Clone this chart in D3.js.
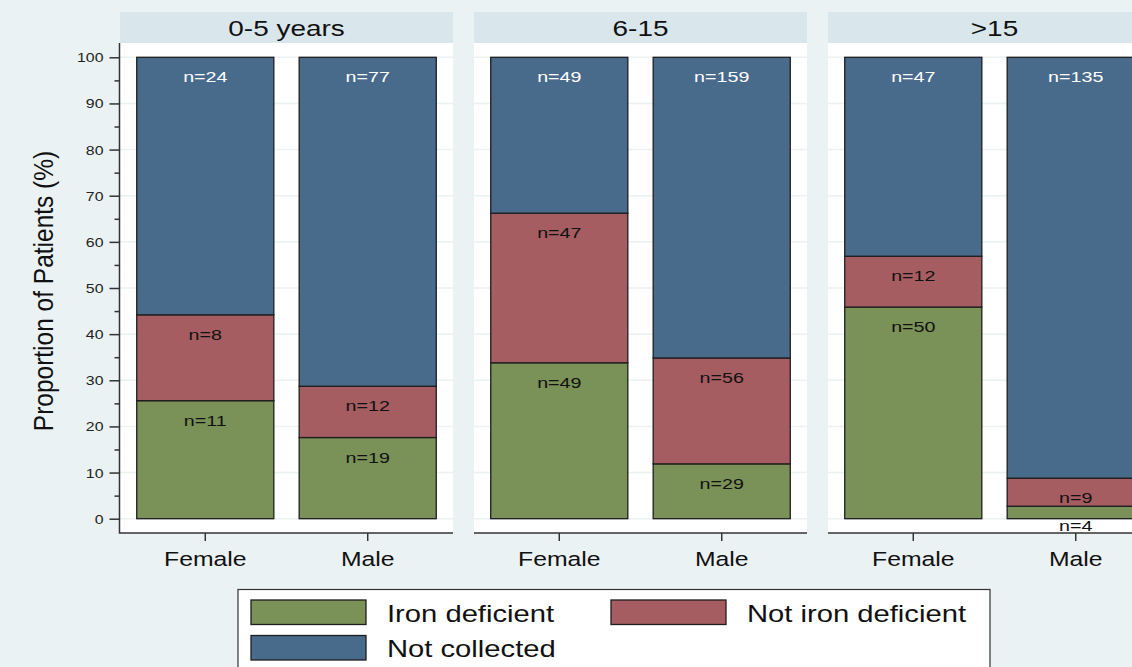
<!DOCTYPE html>
<html>
<head>
<meta charset="utf-8">
<script src="https://cdn.jsdelivr.net/npm/d3@7"></script>
<style>
  body { margin: 0; background: #eaf2f3; }
  svg { display: block; font-family: "Liberation Sans", Arial, sans-serif; }
</style>
</head>
<body>
<div id="chart"></div>
<script>
// data (counts shown as n= labels)
const ageGroups = ['0-5 years', '6-15', '>15'];
const sexes = ['Female', 'Male'];
const ironDeficient    = [11, 19, 49, 29, 50, 4];
const notIronDeficient = [8, 12, 47, 56, 12, 9];
const notCollected     = [24, 77, 49, 159, 47, 135];
const seriesNames = ['Iron deficient', 'Not iron deficient', 'Not collected'];
const yTicks = [0, 10, 20, 30, 40, 50, 60, 70, 80, 90, 100];

const width = 1132, height = 667;
const sx = 1.27; // the picture is stretched sideways, text too
const colors = { 'Iron deficient': '#7a9157', 'Not iron deficient': '#a55d61', 'Not collected': '#486a8b' };
const keys = ['ironDeficient', 'notIronDeficient', 'notCollected'];

let rows = [];
ageGroups.forEach((g, gi) => {
  sexes.forEach((s, si) => {
    let i = gi * 2 + si;
    rows.push({ group: g, sex: s, ironDeficient: ironDeficient[i], notIronDeficient: notIronDeficient[i], notCollected: notCollected[i] });
  });
});

const stack = d3.stack().keys(keys).offset(d3.stackOffsetExpand);
const stacked = stack(rows);

const svg = d3.select('#chart').append('svg')
  .attr('width', width).attr('height', height);

svg.append('rect').attr('width', width).attr('height', height).attr('fill', '#eaf2f3');

/* scales */
const panelX = d3.scaleBand().domain(ageGroups).range([120, 1161]).paddingInner(21 / 354);
const barX = d3.scaleBand().domain(sexes).range([0, panelX.bandwidth()]).paddingInner(0.156).paddingOuter(0.103);
const y = d3.scaleLinear().domain([0, 100]).range([518.7, 57.3]);

const plotTop = 43, plotBottom = 533, headTop = 12;

function stretched(sel, x, yy) {
  return sel.attr('transform', `translate(${x},${yy}) scale(${sx},1)`);
}

const panels = svg.selectAll('.panel')
  .data(ageGroups).enter()
  .append('g')
  .attr('class', 'panel')
  .attr('transform', d => `translate(${panelX(d)},0)`);

// header strip
panels.append('rect')
  .attr('y', headTop).attr('width', panelX.bandwidth()).attr('height', plotTop - headTop)
  .attr('fill', '#d9e6ec');
panels.append('text')
  .each(function (d) { stretched(d3.select(this), panelX.bandwidth() / 2, 35.7); })
  .attr('text-anchor', 'middle')
  .attr('font-size', 22)
  .attr('fill', '#111')
  .text(d => d);

// plot area
panels.append('rect')
  .attr('y', plotTop).attr('width', panelX.bandwidth()).attr('height', plotBottom - plotTop)
  .attr('fill', '#fff');
panels.selectAll('.grid')
  .data(yTicks).enter()
  .append('line')
  .attr('x1', 0).attr('x2', panelX.bandwidth())
  .attr('y1', d => y(d)).attr('y2', d => y(d))
  .attr('stroke', '#eaf2f3').attr('stroke-width', 1.5);

/* bars */
stacked.forEach((layer, li) => {
  let name = seriesNames[li];
  layer.forEach((d, i) => {
    let row = rows[i];
    let x0 = panelX(row.group) + barX(row.sex);
    svg.append('rect')
      .attr('x', x0)
      .attr('y', y(d[1] * 100))
      .attr('width', barX.bandwidth())
      .attr('height', y(d[0] * 100) - y(d[1] * 100))
      .attr('fill', colors[name])
      .attr('stroke', '#1e1e1e')
      .attr('stroke-width', 1.3);
  });
});

// n= labels
stacked.forEach((layer, li) => {
  layer.forEach((d, i) => {
    let row = rows[i];
    let cx = panelX(row.group) + barX(row.sex) + barX.bandwidth() / 2;
    svg.append('text')
      .call(s => stretched(s, cx, y(d[1] * 100) + 25))
      .attr('text-anchor', 'middle')
      .attr('font-size', 15.5)
      .attr('fill', li === 2 ? '#fff' : '#111')
      .text('n=' + row[keys[li]]);
  });
});

/* x axes */
panels.append('line')
  .attr('x1', 0).attr('x2', panelX.bandwidth())
  .attr('y1', plotBottom).attr('y2', plotBottom)
  .attr('stroke', '#333').attr('stroke-width', 1.5);
panels.each(function () {
  let g = d3.select(this);
  sexes.forEach(s => {
    let cx = barX(s) + barX.bandwidth() / 2;
    g.append('line')
      .attr('x1', cx).attr('x2', cx)
      .attr('y1', plotBottom).attr('y2', plotBottom + 8)
      .attr('stroke', '#333').attr('stroke-width', 1.5);
    g.append('text')
      .call(t => stretched(t, cx, 565.5))
      .attr('text-anchor', 'middle')
      .attr('font-size', 19.5)
      .attr('fill', '#111')
      .text(s);
  });
});

/* y axis */
const yAxis = d3.axisLeft(y).tickValues(yTicks).tickSize(10).tickPadding(3);
const yg = svg.append('g')
  .attr('transform', 'translate(119.5,0)')
  .call(yAxis);
yg.select('.domain').remove();
yg.selectAll('.tick line').attr('stroke', '#333').attr('stroke-width', 1.5);
yg.selectAll('.tick text')
  .attr('font-size', 12.5)
  .attr('font-family', '"Liberation Sans", Arial, sans-serif')
  .attr('fill', '#222')
  .attr('x', null).attr('dy', null)
  .attr('transform', `translate(-16,4.5) scale(${sx},1)`);
const minor = d3.axisLeft(y).tickValues(d3.range(5, 100, 10)).tickSize(5).tickFormat('');
const yg2 = svg.append('g').attr('transform', 'translate(119.5,0)').call(minor);
yg2.select('.domain').remove();
yg2.selectAll('.tick line').attr('stroke', '#333').attr('stroke-width', 1.5);
svg.append('line')
  .attr('x1', 119.5).attr('x2', 119.5).attr('y1', plotTop).attr('y2', plotBottom + 0.75)
  .attr('stroke', '#333').attr('stroke-width', 1.5);

svg.append('text')
  .attr('transform', 'translate(53,291) scale(1.13,1) rotate(-90)')
  .attr('text-anchor', 'middle')
  .attr('font-size', 24.5)
  .attr('fill', '#111')
  .text('Proportion of Patients (%)');

/* legend */
const legend = svg.append('g');
legend.append('rect')
  .attr('x', 238).attr('y', 589.5).attr('width', 752).attr('height', 100)
  .attr('fill', '#fff').attr('stroke', '#333').attr('stroke-width', 1.2);
const legendPos = [[251, 600], [611, 600], [251, 635.5]];
seriesNames.forEach((name, i) => {
  let [lx, ly] = legendPos[i];
  legend.append('rect')
    .attr('x', lx).attr('y', ly).attr('width', 115).attr('height', 24.5)
    .attr('fill', colors[name]).attr('stroke', '#1e1e1e').attr('stroke-width', 1.3);
  legend.append('text')
    .call(t => stretched(t, lx + 136, ly + 21.5))
    .attr('font-size', 23)
    .attr('fill', '#111')
    .text(name);
});
</script>
</body>
</html>
